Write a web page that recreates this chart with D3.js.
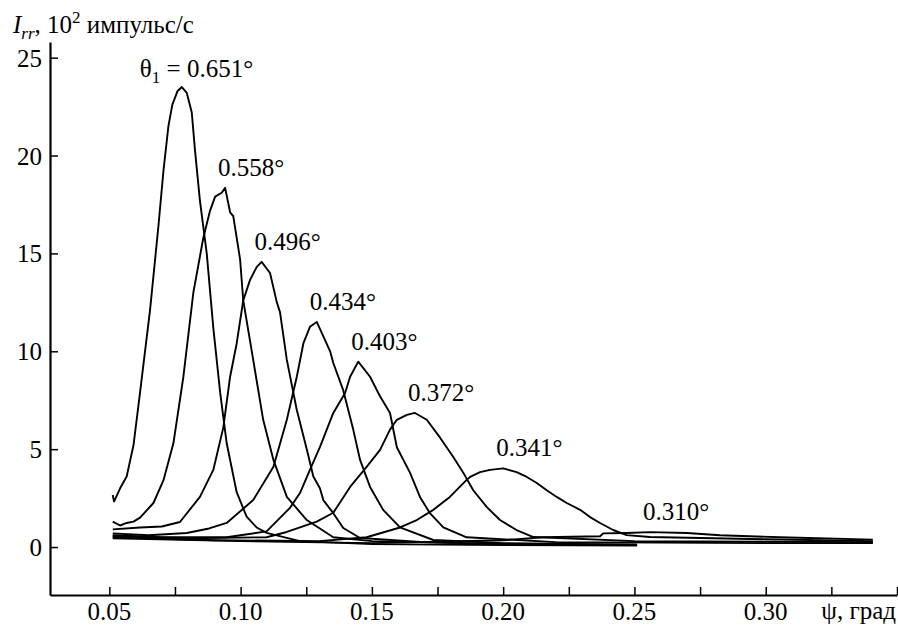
<!DOCTYPE html>
<html>
<head>
<meta charset="utf-8">
<script src="https://cdn.jsdelivr.net/npm/d3@7"></script>
<style>
  body { margin: 0; background: #fff; }
  svg { display: block; font-family: "Liberation Serif", "DejaVu Serif", serif; }
  .axis path, .axis line { stroke: #000; }
  .axis text { font-family: "Liberation Serif", "DejaVu Serif", serif; font-size: 25px; fill: #000; }
  .curve { fill: none; stroke: #000; stroke-width: 1.9; stroke-linejoin: round; }
  .peak-label { font-size: 25px; fill: #000; }
</style>
</head>
<body>
<div id="chart"></div>
<script>
// angle of incidence for each curve (label text)
const thetas = ["0.651", "0.558", "0.496", "0.434", "0.403", "0.372", "0.341", "0.310"];

// [psi (deg), I_rr (10^2 counts/s)]
const c651 = [[0.0513, 2.66], [0.0518, 2.32], [0.0541, 3.0], [0.0566, 3.6], [0.0592, 5.2], [0.0617, 7.9],
  [0.0655, 12.1], [0.0687, 16.4], [0.0706, 19.2], [0.0725, 21.5], [0.0740, 22.6], [0.0760, 23.3], [0.0776, 23.5],
  [0.0795, 23.2], [0.0814, 22.2], [0.0826, 20.3], [0.0845, 17.7], [0.0871, 15.0], [0.0896, 11.2],
  [0.0922, 7.9], [0.0947, 5.3], [0.0985, 2.8], [0.1023, 1.55], [0.1061, 1.0], [0.1099, 0.72],
  [0.1226, 0.3], [0.150, 0.15], [0.200, 0.1], [0.251, 0.08]];
const c558 = [[0.0513, 1.3], [0.0541, 1.1], [0.0566, 1.23], [0.0592, 1.3], [0.0617, 1.5], [0.0668, 2.25],
  [0.0706, 3.4], [0.0744, 5.3], [0.0782, 8.7], [0.0820, 13.0], [0.0858, 15.8], [0.0884, 17.2],
  [0.0903, 17.9], [0.0928, 18.1], [0.0941, 18.35], [0.0960, 17.1], [0.0972, 16.9], [0.0998, 14.7],
  [0.1010, 12.6], [0.1048, 9.56], [0.1086, 6.5], [0.1125, 4.45], [0.1176, 2.56], [0.1252, 1.38],
  [0.1353, 0.5], [0.150, 0.3], [0.200, 0.15], [0.251, 0.12]];
const c496 = [[0.0513, 0.9], [0.0617, 1.0], [0.0700, 1.05], [0.0769, 1.28], [0.0845, 2.56], [0.0896, 3.94],
  [0.0934, 6.1], [0.0960, 8.7], [0.0985, 10.4], [0.1010, 12.6], [0.1036, 13.65], [0.1061, 14.3],
  [0.1080, 14.57], [0.1112, 14.0], [0.1138, 12.5], [0.1150, 12.0], [0.1176, 9.56], [0.1214, 7.0],
  [0.1252, 5.0], [0.1277, 3.6], [0.1302, 3.0], [0.1315, 2.4], [0.1353, 1.73], [0.1391, 0.97],
  [0.1455, 0.46], [0.170, 0.25], [0.200, 0.15], [0.251, 0.1]];
const c434 = [[0.0513, 0.7], [0.0650, 0.6], [0.0795, 0.72], [0.0880, 0.95], [0.0947, 1.23], [0.1048, 2.4],
  [0.1125, 4.1], [0.1176, 6.5], [0.1214, 8.7], [0.1239, 10.4], [0.1264, 11.25], [0.1290, 11.5],
  [0.1341, 10.0], [0.1353, 9.4], [0.1391, 8.0], [0.1429, 6.0], [0.1455, 4.45], [0.1493, 3.07],
  [0.1543, 1.9], [0.1607, 1.0], [0.1734, 0.36], [0.200, 0.2], [0.251, 0.12]];
const c403 = [[0.0513, 0.6], [0.0700, 0.5], [0.0947, 0.5], [0.1099, 0.8], [0.1188, 2.0], [0.1226, 2.76],
  [0.1264, 3.94], [0.1302, 5.1], [0.1353, 6.85], [0.1398, 7.87], [0.1417, 8.7], [0.1448, 9.47],
  [0.1493, 8.7], [0.1531, 7.7], [0.1569, 6.85], [0.1595, 5.1], [0.1645, 3.8], [0.1683, 2.56],
  [0.1721, 1.73], [0.1772, 1.0], [0.1861, 0.5], [0.220, 0.25], [0.300, 0.2], [0.3408, 0.2]];
const c372 = [[0.0513, 0.55], [0.0800, 0.45], [0.1099, 0.5], [0.1176, 0.77], [0.1290, 1.3], [0.1353, 1.75],
  [0.1417, 3.07], [0.1480, 4.1], [0.1531, 4.96], [0.1569, 6.0], [0.1595, 6.5], [0.1633, 6.75],
  [0.1664, 6.85], [0.1709, 6.5], [0.1759, 5.6], [0.1810, 4.6], [0.1848, 3.8], [0.1886, 2.9],
  [0.1937, 2.05], [0.1988, 1.38], [0.2051, 0.87], [0.2115, 0.51], [0.250, 0.3], [0.3408, 0.25]];
const c341 = [[0.0513, 0.5], [0.0900, 0.35], [0.1300, 0.3], [0.1480, 0.5], [0.1607, 1.0], [0.1671, 1.38],
  [0.1734, 1.9], [0.1797, 2.56], [0.1861, 3.43], [0.1874, 3.58], [0.1912, 3.83], [0.1950, 3.94],
  [0.2000, 4.02], [0.2051, 3.83], [0.2090, 3.58], [0.2128, 3.27], [0.2166, 2.9], [0.2204, 2.56],
  [0.2242, 2.25], [0.2293, 1.9], [0.2331, 1.53], [0.2369, 1.23], [0.2419, 0.87], [0.2470, 0.61],
  [0.2559, 0.51], [0.300, 0.4], [0.3408, 0.3]];
const c310 = [[0.0513, 0.45], [0.1000, 0.3], [0.1500, 0.2], [0.2000, 0.35], [0.2154, 0.5], [0.2369, 0.55],
  [0.2381, 0.7], [0.2470, 0.72], [0.2559, 0.76], [0.2700, 0.72], [0.2826, 0.6], [0.3054, 0.5],
  [0.3408, 0.38]];
const curves = [c651, c558, c496, c434, c403, c372, c341, c310];

const xTicks = [0.05, 0.075, 0.10, 0.125, 0.15, 0.175, 0.20, 0.225, 0.25, 0.275, 0.30, 0.325, 0.35];
const xTickLabels = ["0.05", "", "0.10", "", "0.15", "", "0.20", "", "0.25", "", "0.30", "", ""];
const yTicks = [0, 5, 10, 15, 20, 25];

const width = 898;
const height = 628;
const margin = { top: 42, right: 1, bottom: 33, left: 50 };

const svg = d3.select("#chart")
    .append("svg")
    .attr("width", width)
    .attr("height", height);

const xScale = d3.scaleLinear()
    .domain([0.0274, 0.35])
    .range([margin.left, width - margin.right]);

const yScale = d3.scaleLinear()
    .domain([-2.45, 25.8])
    .range([height - margin.bottom, margin.top]);

const xAxis = d3.axisBottom(xScale)
    .tickValues(xTicks)
    .tickFormat("")
    .tickSizeInner(-8)
    .tickSizeOuter(0);

const yAxis = d3.axisLeft(yScale)
    .tickValues(yTicks)
    .tickFormat("")
    .tickSizeInner(-8)
    .tickSizeOuter(0);

const gx = svg.append("g")
    .attr("class", "axis")
    .attr("transform", `translate(0, ${height - margin.bottom})`)
    .call(xAxis);

const gy = svg.append("g")
    .attr("class", "axis")
    .attr("transform", `translate(${margin.left}, 0)`)
    .call(yAxis);

gx.selectAll(".tick text").remove();
gy.selectAll(".tick text").remove();
gx.select(".domain").attr("stroke-width", 2.2);
gy.select(".domain").attr("stroke-width", 2.2);
gx.selectAll(".tick line").attr("stroke-width", 1.5);
gy.selectAll(".tick line").attr("stroke-width", 1.5);

// tick labels placed through the same scales
svg.selectAll(".x-label")
    .data(xTicks.filter((d, i) => xTickLabels[i] !== ""))
    .enter()
    .append("text")
    .attr("class", "x-label")
    .attr("x", d => xScale(d))
    .attr("y", 620)
    .attr("text-anchor", "middle")
    .style("font-size", "25px")
    .text(d => xTickLabels[xTicks.indexOf(d)]);

svg.selectAll(".y-label")
    .data(yTicks)
    .enter()
    .append("text")
    .attr("class", "y-label")
    .attr("x", margin.left - 8)
    .attr("y", d => yScale(d) + 9)
    .attr("text-anchor", "end")
    .style("font-size", "25px")
    .text(d => d);

const line = d3.line()
    .x(d => xScale(d[0]))
    .y(d => yScale(d[1]));

svg.selectAll(".curve")
    .data(curves)
    .enter()
    .append("path")
    .attr("class", "curve")
    .attr("d", line);

// labels next to each peak
curves.forEach((c, i) => {
    const peak = c.reduce((a, b) => (b[1] > a[1] ? b : a));
    const t = svg.append("text")
        .attr("class", "peak-label")
        .attr("x", xScale(peak[0]) + (i === 0 ? -42 : -7))
        .attr("y", yScale(peak[1]) + (i === 0 ? -10 : -12));
    if (i === 0) {
        t.append("tspan").text("θ");
        t.append("tspan").attr("dy", 6).style("font-size", "17px").text("1");
        t.append("tspan").attr("dy", -6).text(" = " + thetas[i] + "°");
    } else {
        t.text(thetas[i] + "°");
    }
});

// y axis title
const yTitle = svg.append("text")
    .attr("x", 13)
    .attr("y", 33)
    .style("font-size", "25px");
yTitle.append("tspan").style("font-style", "italic").text("I");
yTitle.append("tspan").attr("dy", 6).style("font-style", "italic").style("font-size", "17px").text("rr");
yTitle.append("tspan").attr("dy", -6).text(", 10");
yTitle.append("tspan").attr("dy", -10).style("font-size", "17px").text("2");
yTitle.append("tspan").attr("dy", 10).text(" импульс/с");

// x axis title
svg.append("text")
    .attr("x", width - 2)
    .attr("y", 619)
    .attr("text-anchor", "end")
    .style("font-size", "25px")
    .text("ψ, град");
</script>
</body>
</html>
